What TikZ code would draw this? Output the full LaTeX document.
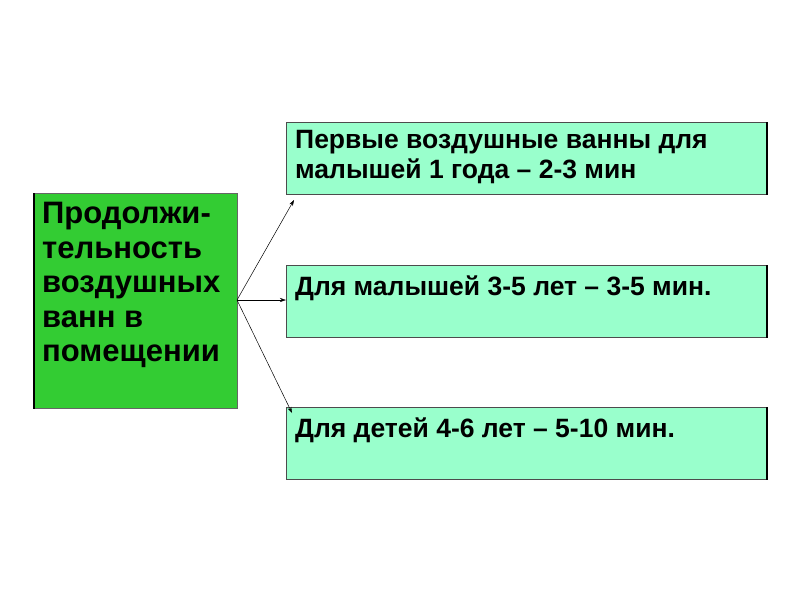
\documentclass[tikz,border=0pt]{standalone}
\usepackage{fontspec}
\setmainfont{Liberation Sans}
\usetikzlibrary{arrows.meta}
\definecolor{lgreen}{HTML}{33CC33}
\definecolor{mint}{HTML}{99FFCC}
\tikzset{
 main/.style={fill=lgreen,draw=black!60,line width=0.6pt,minimum width=203pt,minimum height=215pt,anchor=north west,inner sep=0pt},
 sub/.style={fill=mint,draw=black!70,line width=0.6pt,minimum width=480pt,minimum height=72pt,anchor=north west,inner sep=0pt},
 txt/.style={anchor=north west,align=left,font=\bfseries,inner sep=0pt},
 arr/.style={-{Stealth[length=6pt,width=4pt]},line width=0.5pt}
}
\begin{document}
\begin{tikzpicture}[x=1pt,y=-1pt]
\useasboundingbox (0,0) rectangle (800,600);
\node[main] (m) at (34,193) {};
\draw[line width=2pt] (m.north west) -- (m.south west);
\node[txt,font=\bfseries\fontsize{31}{34.5}\selectfont] (mt) at (42,202) {Продолжи-\\тельность\\воздушных\\ванн в\\помещении};
\node[sub] (a) at (286,122) {};
\node[sub] (b) at (286,265) {};
\node[sub] (c) at (286,407) {};
\foreach \n in {a,b,c}{\draw[line width=2pt] (\n.north east) -- (\n.south east);}
\node[txt,font=\bfseries\fontsize{26.5}{30}\selectfont] (at) at (295,130) {Первые воздушные ванны для\\малышей 1 года – 2-3 мин};
\node[txt,font=\bfseries\fontsize{26.5}{30}\selectfont] (bt) at (295,276) {Для малышей 3-5 лет – 3-5 мин.};
\node[txt,font=\bfseries\fontsize{26.5}{30}\selectfont] (ct) at (295,418) {Для детей 4-6 лет – 5-10 мин.};
\coordinate (o) at (237,300);
\coordinate (ta) at (294,200);
\coordinate (tc) at (292,413);
\draw[arr] (o) -- (ta);
\draw[arr] (o) -- (b.west |- o);
\draw[arr] (o) -- (tc);
\end{tikzpicture}
\end{document}
